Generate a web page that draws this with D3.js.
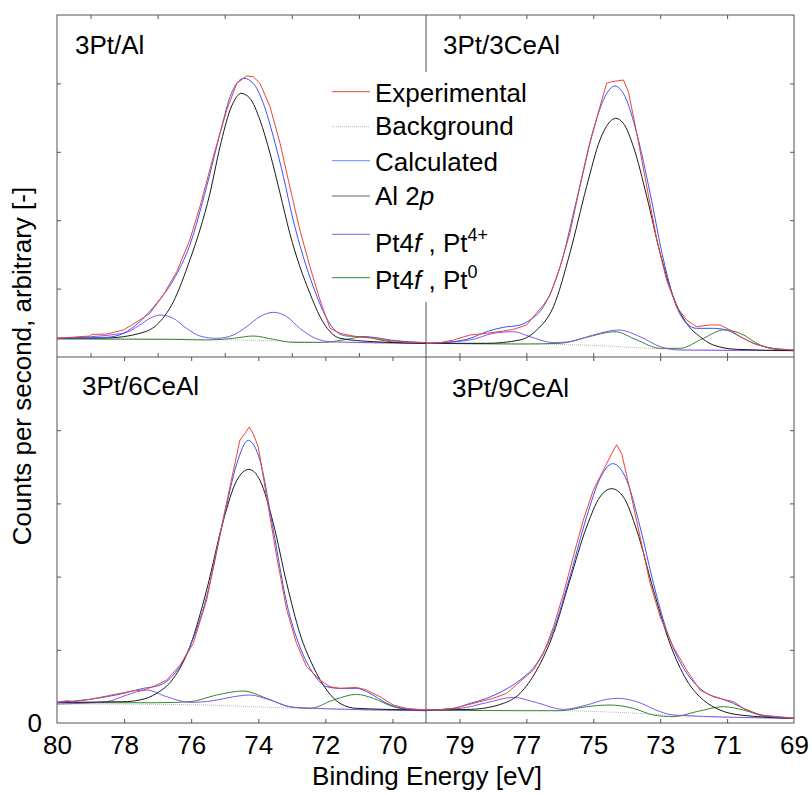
<!DOCTYPE html>
<html>
<head>
<meta charset="utf-8">
<script src="https://cdn.jsdelivr.net/npm/d3@7"></script>
<style>
  body { margin: 0; background: #fff; }
  text { font-family: "Liberation Sans", Arial, Helvetica, sans-serif; fill: #000; }
</style>
</head>
<body>
<svg id="chart" width="812" height="795"></svg>
<script>
// ---- data: [binding energy (eV), counts (arbitrary, tick = 1)] ----

// 3Pt/Al
const alExp = [[80,0.273],[79.02,0.307],[78.97,0.33],[78.52,0.336],[78.02,0.395],[77.53,0.541],[77.23,0.638],[76.83,0.906],[76.43,1.248],[76.04,1.711],[75.74,2.198],[75.34,2.929],[74.94,3.611],[74.64,4.001],[74.35,4.108],[74.15,4.099],[73.95,4.001],[73.65,3.66],[73.35,3.124],[73.06,2.49],[72.76,1.857],[72.46,1.321],[72.16,0.833],[71.86,0.419],[71.56,0.346],[71.07,0.297],[70.57,0.273],[70.07,0.239],[69.58,0.219],[69,0.21]];
const alCalc = [[80,0.273],[78.52,0.288],[78.02,0.346],[77.53,0.517],[77.03,0.785],[76.53,1.126],[76.04,1.637],[75.54,2.49],[75.14,3.27],[74.84,3.806],[74.55,4.05],[74.43,4.074],[74.15,4.001],[73.85,3.709],[73.55,3.221],[73.25,2.636],[72.96,2.003],[72.66,1.467],[72.36,1.028],[72.06,0.663],[71.77,0.419],[71.37,0.307],[70.87,0.297],[70.57,0.288],[70.07,0.249],[69,0.21]];
const alAl2p = [[80,0.273],[78.52,0.278],[77.53,0.346],[77.03,0.468],[76.53,0.809],[76.04,1.418],[75.74,1.857],[75.44,2.393],[75.14,3.075],[74.84,3.611],[74.64,3.806],[74.52,3.855],[74.25,3.782],[73.95,3.465],[73.65,2.978],[73.35,2.393],[73.06,1.808],[72.76,1.321],[72.46,0.931],[72.16,0.59],[71.86,0.37],[71.56,0.273],[70.57,0.224],[69,0.2]];
const alPt4 = [[80,0.273],[78.02,0.346],[77.53,0.468],[77.23,0.565],[76.93,0.614],[76.53,0.565],[76.14,0.419],[75.74,0.307],[75.24,0.273],[74.74,0.322],[74.35,0.443],[73.95,0.59],[73.55,0.653],[73.15,0.59],[72.76,0.419],[72.36,0.288],[71.86,0.224],[69,0.2]];
const alPt0 = [[80,0.263],[76.53,0.258],[75.54,0.249],[74.74,0.273],[74.15,0.307],[73.55,0.258],[72.96,0.214],[72.06,0.214],[71.37,0.258],[70.82,0.297],[70.37,0.249],[69.78,0.21],[69,0.2]];
const alBg = [[80,0.27],[76,0.26],[74,0.24],[72,0.215],[69,0.2]];

// 3Pt/3CeAl
const ce3Exp = [[80,0.2],[79.58,0.21],[79.18,0.249],[78.68,0.322],[78.19,0.346],[77.69,0.38],[77.39,0.404],[76.99,0.468],[76.79,0.59],[76.49,0.76],[76.29,0.906],[75.99,1.321],[75.7,1.808],[75.4,2.49],[75.1,3.124],[74.8,3.66],[74.6,4.001],[74.45,4.025],[74.3,4.035],[74.1,4.05],[73.95,3.879],[73.7,3.27],[73.4,2.49],[73.1,1.711],[72.81,1.126],[72.51,0.736],[72.21,0.541],[71.91,0.443],[71.51,0.468],[71.21,0.468],[70.91,0.395],[70.61,0.297],[70.21,0.2],[69.72,0.127],[69,0.102]];
const ce3Calc = [[80,0.2],[79.18,0.224],[78.68,0.273],[78.19,0.37],[77.69,0.434],[77.19,0.468],[76.89,0.541],[76.49,0.736],[75.99,1.321],[75.5,2.295],[75,3.319],[74.65,3.806],[74.35,3.962],[74.05,3.806],[73.7,3.27],[73.3,2.393],[72.9,1.418],[72.51,0.736],[72.21,0.492],[71.91,0.419],[71.41,0.419],[71.01,0.395],[70.61,0.297],[70.21,0.2],[69.62,0.127],[69,0.102]];
const ce3Al2p = [[80,0.2],[78.19,0.2],[77.19,0.249],[76.69,0.395],[76.19,0.736],[75.7,1.516],[75.2,2.49],[74.8,3.173],[74.5,3.441],[74.33,3.489],[74.1,3.416],[73.8,3.075],[73.4,2.344],[73,1.516],[72.61,0.882],[72.21,0.492],[71.81,0.297],[71.41,0.175],[70.71,0.112],[69,0.093]];
const ce3Pt4 = [[80,0.2],[78.68,0.249],[77.99,0.346],[77.39,0.37],[76.89,0.297],[76.19,0.21],[75.7,0.224],[75,0.322],[74.25,0.395],[73.6,0.297],[73,0.151],[72.41,0.102],[69,0.093]];
const ce3Pt0 = [[80,0.2],[77.19,0.19],[75.99,0.2],[75.2,0.288],[74.35,0.37],[73.7,0.249],[73,0.127],[72.41,0.127],[71.71,0.273],[71.11,0.395],[70.61,0.346],[70.01,0.175],[69.42,0.102],[69,0.093]];
const ce3Bg = [[80,0.2],[77,0.19],[75,0.17],[73,0.12],[71,0.1],[69,0.093]];

// 3Pt/6CeAl
const ce6Exp = [[80,0.282],[79.71,0.305],[79.51,0.291],[79.02,0.323],[78.52,0.368],[78.02,0.414],[77.72,0.441],[77.43,0.45],[77.13,0.496],[76.73,0.587],[76.33,0.791],[75.94,1.087],[75.54,1.678],[75.14,2.588],[74.74,3.452],[74.55,3.861],[74.4,3.952],[74.27,4.043],[74.15,3.952],[74,3.77],[73.75,3.088],[73.45,2.269],[73.15,1.542],[72.86,1.087],[72.56,0.769],[72.16,0.587],[71.86,0.496],[71.56,0.473],[71.07,0.487],[70.77,0.45],[70.37,0.359],[69.98,0.246],[69.58,0.2],[69,0.177]];
const ce6Calc = [[80,0.282],[79.02,0.323],[78.02,0.405],[77.43,0.473],[76.93,0.518],[76.53,0.655],[76.04,1.041],[75.54,1.724],[75.04,2.769],[74.64,3.543],[74.3,3.861],[73.95,3.588],[73.55,2.633],[73.15,1.633],[72.76,1.041],[72.36,0.678],[71.96,0.496],[71.56,0.473],[71.07,0.473],[70.67,0.405],[70.17,0.268],[69.58,0.191],[69,0.177]];
const ce6Al2p = [[80,0.282],[78.02,0.291],[77.53,0.314],[77.03,0.405],[76.53,0.609],[76.04,1.041],[75.54,1.815],[75.04,2.769],[74.64,3.315],[74.28,3.465],[73.95,3.315],[73.55,2.724],[73.15,1.905],[72.76,1.223],[72.36,0.769],[71.96,0.45],[71.56,0.268],[71.07,0.2],[69,0.177]];
const ce6Pt4 = [[80,0.259],[78.52,0.291],[77.92,0.382],[77.33,0.45],[76.73,0.359],[76.04,0.282],[75.34,0.305],[74.74,0.359],[74.25,0.382],[73.65,0.314],[72.96,0.214],[69,0.168]];
const ce6Pt0 = [[80,0.277],[77.03,0.277],[76.04,0.291],[75.24,0.382],[74.45,0.437],[73.75,0.337],[73.06,0.223],[72.46,0.2],[71.76,0.314],[71.07,0.391],[70.57,0.337],[69.98,0.223],[69.38,0.177],[69,0.168]];
const ce6Bg = [[80,0.26],[76,0.25],[74,0.22],[72,0.19],[69,0.168]];

// 3Pt/9CeAl
const ce9Exp = [[80,0.186],[79.68,0.177],[79.18,0.2],[78.78,0.246],[78.39,0.291],[77.99,0.337],[77.59,0.405],[77.19,0.564],[76.79,0.723],[76.49,0.95],[76.19,1.314],[75.89,1.769],[75.6,2.269],[75.3,2.769],[75,3.179],[74.7,3.452],[74.45,3.679],[74.3,3.802],[74.15,3.679],[73.9,3.179],[73.6,2.542],[73.3,1.905],[73,1.451],[72.61,1.041],[72.21,0.723],[71.81,0.45],[71.41,0.359],[71.11,0.323],[70.81,0.291],[70.51,0.2],[70.01,0.109],[69.42,0.086],[69,0.064]];
const ce9Calc = [[80,0.177],[79.18,0.2],[78.68,0.268],[78.19,0.337],[77.69,0.441],[77.19,0.587],[76.69,0.814],[76.19,1.269],[75.7,1.996],[75.2,2.815],[74.8,3.338],[74.42,3.543],[74,3.315],[73.6,2.678],[73.2,1.905],[72.81,1.269],[72.41,0.837],[72.01,0.564],[71.61,0.405],[71.21,0.337],[70.81,0.268],[70.41,0.177],[69.82,0.095],[69,0.064]];
const ce9Al2p = [[80,0.177],[78.68,0.186],[77.69,0.268],[77.19,0.405],[76.69,0.723],[76.19,1.223],[75.7,1.951],[75.2,2.678],[74.8,3.088],[74.45,3.201],[74.1,3.088],[73.7,2.633],[73.2,1.815],[72.71,1.087],[72.21,0.587],[71.71,0.314],[71.21,0.177],[70.61,0.109],[69,0.064]];
const ce9Pt4 = [[80,0.177],[78.98,0.2],[78.19,0.277],[77.39,0.35],[76.69,0.277],[75.89,0.186],[75.2,0.246],[74.6,0.323],[74.25,0.337],[73.7,0.291],[73,0.155],[72.61,0.109],[69,0.064]];
const ce9Pt0 = [[80,0.177],[77.19,0.168],[75.99,0.168],[75.2,0.223],[74.5,0.246],[73.8,0.2],[73.2,0.109],[72.61,0.086],[71.91,0.155],[71.11,0.223],[70.51,0.177],[69.82,0.086],[69,0.064]];
const ce9Bg = [[80,0.177],[76,0.168],[74,0.14],[72,0.09],[69,0.064]];

const sampleNames = ["3Pt/Al", "3Pt/3CeAl", "3Pt/6CeAl", "3Pt/9CeAl"];
const legendNames = ["Experimental", "Background", "Calculated", "Al 2p", "Pt4f , Pt4+", "Pt4f , Pt0"];
const leftLabels = [80, 78, 76, 74, 72, 70];
const rightLabels = [79, 77, 75, 73, 71, 69];
const yTicks = [1, 2, 3, 4];
const energyDomain = [80, 69];
const countDomain = [0, 5];

// ---- layout ----
const svg = d3.select("#chart");
const L = 57, M = 426, R = 794, T = 15, MY = 357, B = 723;
const frameCol = "#555";
const fontSize = 26;

const colors = { exp: "#ee4433", bg: "#aaa", calc: "#3355ff", al: "#1a1a1a", pt4: "#8855ee", pt0: "#338833" };

const panels = [
  { name: sampleNames[0], box: [L, M, T, MY], exp: alExp, calc: alCalc, al: alAl2p, pt4: alPt4, pt0: alPt0, bg: alBg,
    xt: [79, 77, 75, 73, 71], ySide: "left", lab: [75, 54] },
  { name: sampleNames[1], box: [M, R, T, MY], exp: ce3Exp, calc: ce3Calc, al: ce3Al2p, pt4: ce3Pt4, pt0: ce3Pt0, bg: ce3Bg,
    xt: [79, 77, 75, 73, 71], ySide: "right", lab: [443, 54] },
  { name: sampleNames[2], box: [L, M, MY, B], exp: ce6Exp, calc: ce6Calc, al: ce6Al2p, pt4: ce6Pt4, pt0: ce6Pt0, bg: ce6Bg,
    xt: [78, 76, 74, 72, 70], ySide: "left", lab: [82, 395], labels: leftLabels },
  { name: sampleNames[3], box: [M, R, MY, B], exp: ce9Exp, calc: ce9Calc, al: ce9Al2p, pt4: ce9Pt4, pt0: ce9Pt0, bg: ce9Bg,
    xt: [79, 77, 75, 73, 71], ySide: "right", lab: [452, 397], labels: rightLabels }
];

const defs = svg.append("defs");

panels.forEach((p, i) => {
  const [x0, x1, y0, y1] = p.box;
  const x = d3.scaleLinear().domain(energyDomain).range([x0, x1]);
  const y = d3.scaleLinear().domain(countDomain).range([y1, y0]);

  defs.append("clipPath").attr("id", "clip" + i)
    .append("rect").attr("x", x0).attr("y", y0).attr("width", x1 - x0).attr("height", y1 - y0);

  const g = svg.append("g");
  const curves = g.append("g").attr("clip-path", `url(#clip${i})`);

  const smooth = d3.line().x(d => x(d[0])).y(d => y(d[1])).curve(d3.curveMonotoneX);
  const rough = d3.line().x(d => x(d[0])).y(d => y(d[1])).curve(d3.curveLinear);

  //draw order: background, components, fit, experiment
  curves.append("path").attr("d", smooth(p.bg)).attr("fill", "none")
    .attr("stroke", colors.bg).attr("stroke-width", 0.8).attr("stroke-dasharray", "1,1");
  curves.append("path").attr("d", smooth(p.pt0)).attr("fill", "none").attr("stroke", colors.pt0).attr("stroke-width", 1);
  curves.append("path").attr("d", smooth(p.pt4)).attr("fill", "none").attr("stroke", colors.pt4).attr("stroke-width", 1);
  curves.append("path").attr("d", smooth(p.al)).attr("fill", "none").attr("stroke", colors.al).attr("stroke-width", 1);
  curves.append("path").attr("d", smooth(p.calc)).attr("fill", "none").attr("stroke", colors.calc).attr("stroke-width", 1);
  curves.append("path").attr("d", rough(p.exp)).attr("fill", "none").attr("stroke", colors.exp).attr("stroke-width", 1);

  //inward ticks on every edge
  const tick = 4;
  const axT = g.append("g").attr("transform", `translate(0,${y0})`)
    .call(d3.axisTop(x).tickValues(p.xt).tickSizeInner(-tick).tickSizeOuter(0).tickFormat(""));
  const axB = g.append("g").attr("transform", `translate(0,${y1})`)
    .call(d3.axisBottom(x).tickValues(p.xt).tickSizeInner(-tick).tickSizeOuter(0).tickFormat(""));
  const yAx = p.ySide === "left"
    ? d3.axisLeft(y).tickValues(yTicks).tickSizeInner(-tick).tickSizeOuter(0).tickFormat("")
    : d3.axisRight(y).tickValues(yTicks).tickSizeInner(-tick).tickSizeOuter(0).tickFormat("");
  const axY = g.append("g").attr("transform", `translate(${p.ySide === "left" ? x0 : x1},0)`).call(yAx);
  [axT, axB, axY].forEach(a => {
    a.select(".domain").remove();
    a.selectAll("line").attr("stroke", frameCol);
  });

  //tick labels under the bottom row
  if (p.labels) {
    const lab = g.append("g").attr("transform", `translate(0,${y1})`)
      .call(d3.axisBottom(x).tickValues(p.labels).tickSize(0).tickPadding(13).tickFormat(d3.format("d")));
    lab.select(".domain").remove();
    lab.selectAll("text").attr("font-size", fontSize).attr("font-family", null);
  }

  g.append("text").attr("x", p.lab[0]).attr("y", p.lab[1]).attr("font-size", fontSize).text(p.name);
});

// frame and dividers
svg.append("rect").attr("x", L).attr("y", T).attr("width", R - L).attr("height", B - T)
  .attr("fill", "none").attr("stroke", frameCol).attr("stroke-width", 1);
svg.append("line").attr("x1", L).attr("x2", R).attr("y1", MY).attr("y2", MY).attr("stroke", frameCol);
svg.append("line").attr("x1", M).attr("x2", M).attr("y1", T).attr("y2", B).attr("stroke", frameCol);

// "0" on the y axis, kept clear of the "80" label
svg.append("text").attr("x", 42).attr("y", 732).attr("text-anchor", "end").attr("font-size", fontSize).text("0");

// axis titles
svg.append("text").attr("x", 427).attr("y", 785).attr("text-anchor", "middle").attr("font-size", fontSize)
  .text("Binding Energy [eV]");
svg.append("text").attr("transform", "translate(31,366) rotate(-90)").attr("text-anchor", "middle")
  .attr("font-size", fontSize).text("Counts per second, arbitrary [-]");

// legend
const legend = svg.append("g");
legend.append("rect").attr("x", 325).attr("y", 72).attr("width", 215).attr("height", 230).attr("fill", "#fff");
const legendLineY = [91.7, 126.7, 160.7, 196, 234.3, 277.7];
const legendTextY = [101.7, 135, 170.7, 205, 251.7, 289];
const legendCols = [colors.exp, "#bbb", "#6688ff", "#999", colors.pt4, colors.pt0];
legendNames.forEach((n, i) => {
  legend.append("line").attr("x1", 332).attr("x2", 370).attr("y1", legendLineY[i]).attr("y2", legendLineY[i])
    .attr("stroke", legendCols[i]).attr("stroke-width", i === 3 ? 1.5 : 1)
    .attr("stroke-dasharray", i === 1 ? "1,1" : null);
  const t = legend.append("text").attr("x", 375).attr("y", legendTextY[i]).attr("font-size", fontSize);
  if (i === 3) {
    t.append("tspan").text("Al 2");
    t.append("tspan").attr("font-style", "italic").text("p");
  } else if (i >= 4) {
    t.append("tspan").text("Pt4");
    t.append("tspan").attr("font-style", "italic").text("f");
    t.append("tspan").text(" , Pt");
    t.append("tspan").attr("font-size", 18).attr("dy", -11).text(i === 4 ? "4+" : "0");
  } else {
    t.text(n);
  }
});
</script>
</body>
</html>
